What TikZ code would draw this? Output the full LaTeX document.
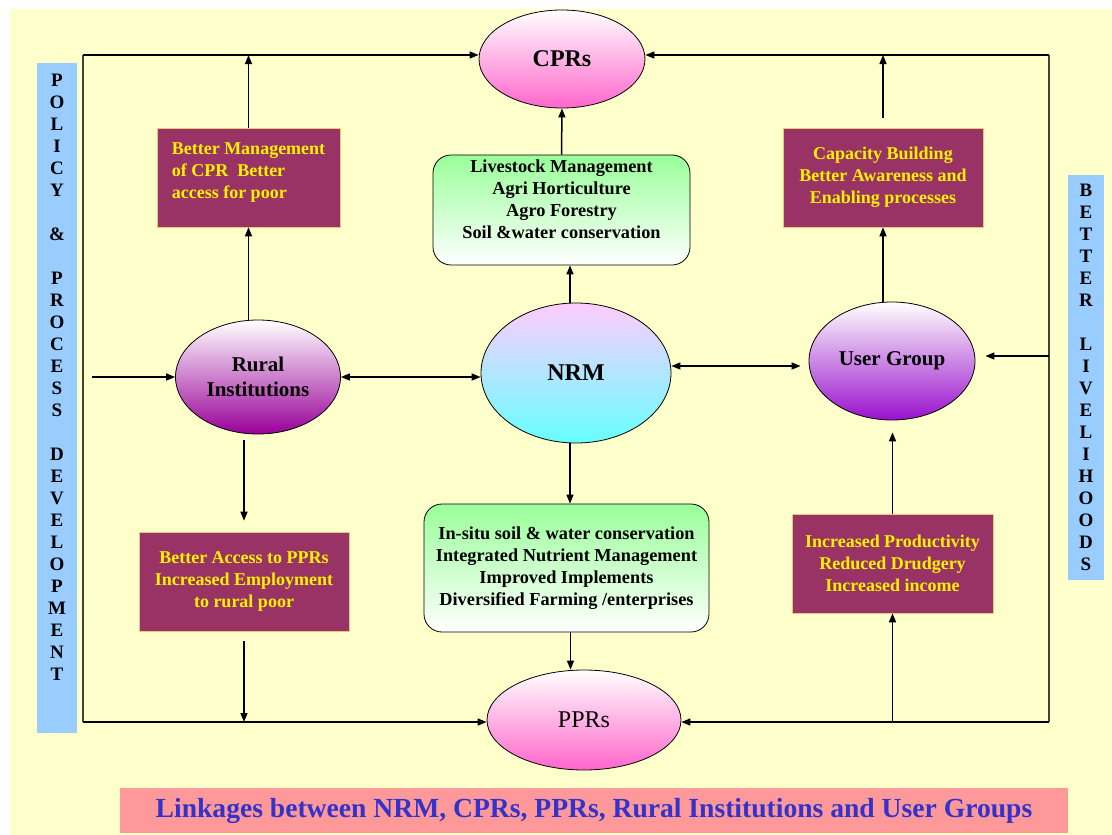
\documentclass[tikz,border=0pt]{standalone}
\usepackage{fontspec}
\setmainfont{Liberation Serif}
\usetikzlibrary{shapes.geometric,arrows.meta}

\definecolor{bgyellow}{HTML}{FFFFCC}
\definecolor{sideblue}{HTML}{99CCFF}
\definecolor{maroon}{HTML}{993366}
\definecolor{boxedge}{HTML}{E8C878}
\definecolor{titlepink}{HTML}{FF9999}
\definecolor{titleblue}{HTML}{3333CC}
\definecolor{cprpink}{HTML}{FF66CC}
\definecolor{ripurple}{HTML}{990099}
\definecolor{ugviolet}{HTML}{9911CC}
\definecolor{nrmtop}{HTML}{FFCCFF}
\definecolor{nrmbot}{HTML}{66FFFF}
\definecolor{mintgreen}{HTML}{99FF99}

\tikzset{
  arr/.style={draw=black, line width=1.5pt, -{Triangle[length=9pt,width=7pt]}},
  arrtwo/.style={draw=black, line width=1.5pt, {Triangle[length=9pt,width=7pt]}-{Triangle[length=9pt,width=7pt]}},
  frame/.style={draw=black!85!yellow, line width=1.8pt},
  oval/.style={ellipse, draw=black, line width=0.8pt, inner sep=0pt, align=center},
  mbox/.style={rectangle, fill=maroon, draw=boxedge, line width=0.6pt, text=yellow,
    font=\bfseries\fontsize{18}{22}\selectfont, inner sep=0pt},
  gbox/.style={rectangle, rounded corners=18pt, draw=black, line width=0.8pt,
    top color=mintgreen, bottom color=white, align=center,
    font=\bfseries\fontsize{18.3}{22}\selectfont, inner sep=0pt},
  sidebar/.style={rectangle, fill=sideblue, inner sep=0pt},
  sidetext/.style={inner sep=0pt, align=center, font=\bfseries\fontsize{19}{22}\selectfont}
}

\begin{document}
\begin{tikzpicture}[x=1pt,y=-1pt]
  \useasboundingbox (0,0) rectangle (1112,835);
  \fill[bgyellow] (10,9) rectangle (1112,835);

  % side bars
  \node[sidebar, minimum width=40pt, minimum height=670pt] (policy) at (57,398) {};
  \node[sidetext] (policytxt) at (57,377)
    {P\\O\\L\\I\\C\\Y\\[22pt]\&\\[22pt]P\\R\\O\\C\\E\\S\\S\\[22pt]D\\E\\V\\E\\L\\O\\P\\M\\E\\N\\T};
  \node[sidebar, minimum width=36pt, minimum height=405pt] (liveli) at (1086,377.5) {};
  \node[sidetext] (livelitxt) at (1086,377)
    {B\\E\\T\\T\\E\\R\\[22pt]L\\I\\V\\E\\L\\I\\H\\O\\O\\D\\S};

  % ovals
  \node[oval, minimum width=166pt, minimum height=98pt, top color=white, bottom color=cprpink,
    font=\bfseries\fontsize{24}{28}\selectfont] (cpr) at (562,59) {CPRs};
  \node[oval, minimum width=194pt, minimum height=100pt, top color=white, bottom color=cprpink,
    font=\fontsize{24}{28}\selectfont] (ppr) at (584,720) {PPRs};
  \node[oval, minimum width=190pt, minimum height=140pt, top color=nrmtop, bottom color=nrmbot,
    font=\bfseries\fontsize{24}{28}\selectfont] (nrm) at (576,373) {NRM};
  \node[oval, minimum width=165pt, minimum height=114pt, top color=white, bottom color=ripurple,
    font=\bfseries\fontsize{21}{25}\selectfont] (rural) at (258,377) {Rural\\Institutions};
  \node[oval, minimum width=166pt, minimum height=118pt, top color=white, bottom color=ugviolet,
    font=\bfseries\fontsize{21}{25}\selectfont] (ug) at (892,361) {User Group};

  % maroon boxes
  \node[mbox, minimum width=183pt, minimum height=99pt, align=left] (bmcpr) at (248.5,177.5)
    {Better Management\\of CPR\ \ Better\\access for poor\rule[-14pt]{0pt}{0pt}};
  \node[mbox, minimum width=200pt, minimum height=99pt, align=center] (capbuild) at (883,177.5)
    {Capacity Building\\Better Awareness and\\Enabling processes};
  \node[mbox, minimum width=210pt, minimum height=99pt, align=center] (bappr) at (244,581.5)
    {Better Access to PPRs\\Increased Employment\\to rural poor};
  \node[mbox, minimum width=201pt, minimum height=99pt, align=center] (incprod) at (892.5,563.5)
    {Increased Productivity\\Reduced Drudgery\\Increased income};

  % green boxes
  \node[gbox, minimum width=257pt, minimum height=110pt] (gtop) at (561.5,210)
    {Livestock Management\\Agri Horticulture\\Agro Forestry\\Soil \&water conservation\rule[-22pt]{0pt}{0pt}};
  \node[gbox, minimum width=285pt, minimum height=128pt] (gbot) at (566.5,568)
    {In-situ soil \& water conservation\\Integrated Nutrient Management\\Improved Implements\\Diversified Farming /enterprises};

  % title
  \node[fill=titlepink, minimum width=948pt, minimum height=45pt, inner sep=0pt, text=titleblue,
    font=\bfseries\fontsize{27.6}{32}\selectfont] (title) at (594,810.5)
    {Linkages between NRM, CPRs, PPRs, Rural Institutions and User Groups};

  % outer frame
  \coordinate (tl) at (83,55);
  \coordinate (tr) at (1049,55);
  \coordinate (bl) at (83,722);
  \coordinate (br) at (1049,722);
  \draw[frame] (tl) -- (bl);
  \draw[frame] (tr) -- (br);
  \draw[arr] (tl) -- (tl -| cpr.west);
  \draw[arr] (tr) -- (tr -| cpr.east);
  \draw[arr] (bl) -- (bl -| ppr.west);
  \draw[arr] (br) -- (br -| ppr.east);

  % left column
  \draw[arr] ([xshift=9pt]tl |- rural.west) -- (rural.west);
  \draw[arr] (bmcpr.south |- rural.north) -- (bmcpr.south);
  \draw[arr] (bmcpr.north) -- (bmcpr.north |- tl);
  \draw[arr, shorten <=6pt, shorten >=11pt] (bappr.north |- rural.south) -- (bappr.north);
  \draw[arr, shorten <=10pt] (bappr.south) -- (bappr.south |- bl);
  \draw[arrtwo] (rural.east) -- (rural.east -| nrm.west);

  % centre column
  \draw[arr] ([xshift=-6pt]nrm.north) -- ([xshift=-6pt]nrm.north |- gtop.south);
  \draw[arr] (gtop.north) -- (cpr.south);
  \draw[arr] ([xshift=-6pt]nrm.south) -- ([xshift=-6pt]nrm.south |- gbot.north);
  \draw[arr] ([xshift=4pt]gbot.south) -- ([xshift=4pt]gbot.south |- ppr.north);

  % right column
  \draw[arrtwo, shorten >=8pt] ([yshift=-5pt]ug.west -| nrm.east) -- ([yshift=-5pt]ug.west);
  \draw[arr, shorten >=10pt] ([yshift=5pt]tr |- ug.east) -- ([yshift=5pt]ug.east);
  \draw[arr] (capbuild.south |- ug.north) -- (capbuild.south);
  \draw[arr, shorten <=10pt] (capbuild.north) -- (capbuild.north |- tr);
  \draw[arr] (incprod.south |- br) -- (incprod.south);
  \draw[arr, shorten >=12pt] (incprod.north) -- (incprod.north |- ug.south);
\end{tikzpicture}
\end{document}
